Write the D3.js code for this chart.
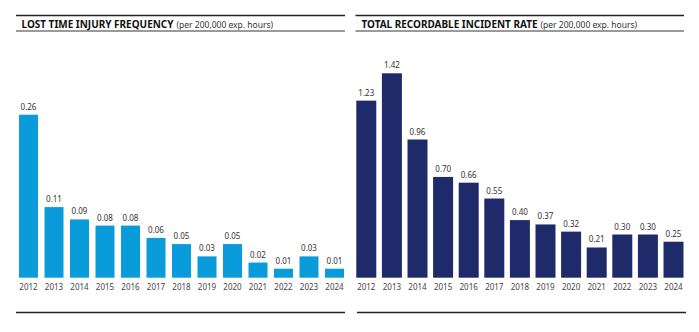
<!DOCTYPE html>
<html><head><meta charset="utf-8">
<script src="https://cdn.jsdelivr.net/npm/d3@7"></script>
<style>
html,body{margin:0;padding:0;background:#fff;}
svg{display:block;}
</style></head>
<body>
<svg id="chart" width="699" height="332"></svg>
<script>
const years = ["2012","2013","2014","2015","2016","2017","2018","2019","2020","2021","2022","2023","2024"];
const ltifValues = [0.26,0.11,0.09,0.08,0.08,0.06,0.05,0.03,0.05,0.02,0.01,0.03,0.01];
const trirValues = [1.23,1.42,0.96,0.70,0.66,0.55,0.40,0.37,0.32,0.21,0.30,0.30,0.25];
const ltifLabels = ["0.26","0.11","0.09","0.08","0.08","0.06","0.05","0.03","0.05","0.02","0.01","0.03","0.01"];
const trirLabels = ["1.23","1.42","0.96","0.70","0.66","0.55","0.40","0.37","0.32","0.21","0.30","0.30","0.25"];
const titles = ["LOST TIME INJURY FREQUENCY","TOTAL RECORDABLE INCIDENT RATE"];
const subtitle = "(per 200,000 exp. hours)";

const svg = d3.select("#chart");
const font = "'Noto Sans', sans-serif";

function panel(cfg){
  const g = svg.append("g");
  g.append("line").attr("x1",cfg.hx0).attr("x2",cfg.hx1).attr("y1",15.5).attr("y2",15.5)
    .attr("stroke","#222").attr("stroke-width",1.5);
  g.append("line").attr("x1",cfg.hx0).attr("x2",cfg.hx1).attr("y1",31).attr("y2",31)
    .attr("stroke","#9a9a9a").attr("stroke-width",2);
  const t = g.append("text").attr("x",cfg.tx).attr("y",28).attr("font-family",font).attr("fill","#111");
  t.append("tspan").attr("font-size","10.5px").attr("font-weight","bold").attr("textLength",cfg.tlen).attr("lengthAdjust","spacingAndGlyphs").text(cfg.title);
  t.append("tspan").attr("dx",3).attr("font-size","8.5px").attr("fill","#333").text(subtitle);

  const x = d3.scaleBand().domain(years).range(cfg.xr).paddingInner(cfg.pad).paddingOuter(cfg.pad/2);
  const y = d3.scaleLinear().domain([cfg.min,cfg.max]).range([277.7,cfg.top]);

  g.selectAll("rect.bar").data(cfg.values).join("rect").attr("class","bar")
    .attr("x",(d,i)=>x(years[i])).attr("width",x.bandwidth())
    .attr("y",d=>y(d)).attr("height",d=>y(cfg.min)-y(d)).attr("fill",cfg.color);

  g.selectAll("text.val").data(cfg.labels).join("text").attr("class","val")
    .attr("x",(d,i)=>x(years[i])+x.bandwidth()/2).attr("y",(d,i)=>y(cfg.values[i])-5)
    .attr("text-anchor","middle").attr("font-family",font).attr("font-size","8px").attr("fill","#333").text(d=>d);

  const ax = g.append("g").attr("transform","translate(0,277.7)")
    .call(d3.axisBottom(x).tickSize(0).tickPadding(7));
  ax.select(".domain").remove();
  ax.selectAll("text").attr("font-family",font).attr("font-size","8px").attr("fill","#444");

  g.append("line").attr("x1",cfg.bx0).attr("x2",cfg.bx1).attr("y1",312.5).attr("y2",312.5)
    .attr("stroke","#222").attr("stroke-width",1.5);
}

panel({title:titles[0], values:ltifValues, labels:ltifLabels, color:"#0a9bda", min:-0.0046, max:0.26, top:114.7,
  xr:[15.75,347.25], pad:0.255, hx0:16, hx1:345, bx0:16, bx1:345, tx:21.5, tlen:152});
panel({title:titles[1], values:trirValues, labels:trirLabels, color:"#1e2a69", min:0, max:1.42, top:73.3,
  xr:[353.5,686.3], pad:0.219, hx0:355.5, hx1:684, bx0:357, bx1:686, tx:361.5, tlen:176});
</script>
</body></html>
